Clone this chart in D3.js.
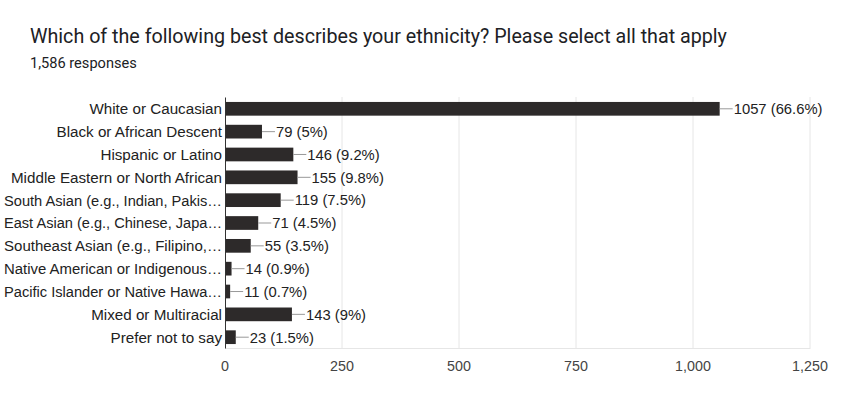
<!DOCTYPE html>
<html><head><meta charset="utf-8">
<script src="https://cdn.jsdelivr.net/npm/d3@7"></script>
<style>body{margin:0;background:#fff;font-family:"Liberation Sans",Arial,sans-serif;}</style>
</head><body><svg id="c" width="857" height="414"></svg>
<script>
const categories = ["White or Caucasian","Black or African Descent","Hispanic or Latino","Middle Eastern or North African","South Asian (e.g., Indian, Pakis…","East Asian (e.g., Chinese, Japa…","Southeast Asian (e.g., Filipino,…","Native American or Indigenous…","Pacific Islander or Native Hawa…","Mixed or Multiracial","Prefer not to say"];
const counts = [1057,79,146,155,119,71,55,14,11,143,23];
const percents = ["66.6%","5%","9.2%","9.8%","7.5%","4.5%","3.5%","0.9%","0.7%","9%","1.5%"];
const ticks = [0,250,500,750,1000,1250];

const svg = d3.select("#c");
svg.append("text").attr("x",30).attr("y",43).attr("font-size",19.7).attr("font-family","Roboto").attr("fill","#202124")
  .text("Which of the following best describes your ethnicity? Please select all that apply");
svg.append("text").attr("x",30).attr("y",68).attr("font-size",14.6).attr("font-family","Roboto").attr("fill","#202124").text("1,586 responses");

const x = d3.scaleLinear().domain([0,1250]).range([225,810]);
const y = d3.scaleBand().domain(categories).range([97.5,348.5]).paddingInner(0.4).paddingOuter(0.195);

const g = svg.append("g");
g.selectAll("line.grid").data(ticks.slice(1)).join("line").attr("class","grid")
  .attr("x1",d=>x(d)).attr("x2",d=>x(d)).attr("y1",97).attr("y2",349)
  .attr("stroke","#e6e6e6");
g.append("line").attr("x1",225).attr("x2",810).attr("y1",348.5).attr("y2",348.5).attr("stroke","#e6e6e6");

g.selectAll("rect").data(counts).join("rect")
  .attr("x",x(0)).attr("y",(d,i)=>y(categories[i])).attr("width",d=>x(d)-x(0)).attr("height",y.bandwidth())
  .attr("fill","#2d2a2a");

g.selectAll("line.lead").data(counts).join("line").attr("class","lead")
  .attr("x1",d=>x(d)).attr("x2",d=>x(d)+13)
  .attr("y1",(d,i)=>y(categories[i])+y.bandwidth()/2).attr("y2",(d,i)=>y(categories[i])+y.bandwidth()/2)
  .attr("stroke","#999");
g.selectAll("text.val").data(counts).join("text").attr("class","val")
  .attr("x",d=>x(d)+14).attr("y",(d,i)=>y(categories[i])+y.bandwidth()/2).attr("dy","0.36em")
  .attr("font-size",14.8).attr("fill","#222").text((d,i)=>`${d} (${percents[i]})`);

const maxW = 218;
g.selectAll("text.cat").data(categories).join("text").attr("class","cat")
  .attr("x",222).attr("y",d=>y(d)+y.bandwidth()/2).attr("dy","0.36em").attr("text-anchor","end")
  .attr("font-size",15.2).attr("fill","#222").text(d=>d)
  .each(function(){
    if (this.getComputedTextLength() > maxW) {
      d3.select(this).attr("textLength",maxW).attr("lengthAdjust","spacingAndGlyphs");
    }
  });

g.append("line").attr("x1",225.5).attr("x2",225.5).attr("y1",97.5).attr("y2",348.5).attr("stroke","#333");

g.selectAll("text.tick").data(ticks).join("text").attr("class","tick")
  .attr("x",d=>x(d)).attr("y",371).attr("text-anchor","middle").attr("font-size",14.3).attr("fill","#444")
  .text(d=>d3.format(",")(d));
</script></body></html>
